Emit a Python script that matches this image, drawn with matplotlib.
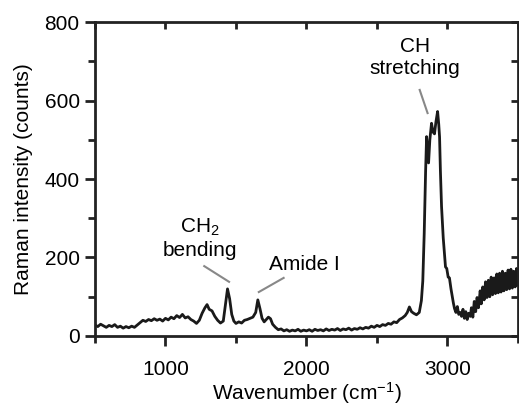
import matplotlib
matplotlib.use("Agg")
import matplotlib.pyplot as plt
from matplotlib.ticker import MultipleLocator

plt.rcParams['font.family'] = ['Liberation Sans', 'DejaVu Sans']
plt.rcParams['mathtext.fontset'] = 'custom'
plt.rcParams['mathtext.rm'] = 'Liberation Sans'
plt.rcParams['mathtext.it'] = 'Liberation Sans:italic'
plt.rcParams['mathtext.bf'] = 'Liberation Sans:bold'

wavenumber = [500, 520, 540, 560, 580, 600, 620, 640, 660, 680, 700, 720, 740, 760, 780, 800,
              820, 840, 860, 880, 900, 920, 940, 960, 980, 1000, 1020, 1040, 1060, 1080, 1100,
              1120, 1140, 1160, 1180, 1200, 1220, 1240, 1260, 1280, 1295, 1310, 1330, 1350, 1370,
              1390, 1410, 1425, 1440, 1455, 1470, 1485, 1500, 1520, 1540, 1560, 1580, 1600, 1620,
              1640, 1655, 1670, 1685, 1700, 1715, 1730, 1745, 1760, 1780, 1800, 1820, 1840, 1860,
              1880, 1900, 1920, 1940, 1960, 1980, 2000, 2020, 2040, 2060, 2080, 2100, 2120, 2140,
              2160, 2180, 2200, 2220, 2240, 2260, 2280, 2300, 2320, 2340, 2360, 2380, 2400, 2420,
              2440, 2460, 2480, 2500, 2520, 2540, 2560, 2580, 2600, 2620, 2640, 2660, 2680, 2700,
              2715, 2730, 2745, 2760, 2780, 2800, 2815, 2825, 2835, 2845, 2852, 2860, 2866, 2875,
              2887, 2897, 2908, 2918, 2930, 2938, 2944, 2950, 2958, 2970, 2986, 2995, 3005, 3014,
              3025, 3042, 3050, 3060, 3070, 3080, 3092, 3100, 3110, 3120, 3130, 3140, 3150, 3162,
              3170, 3180, 3190, 3200, 3210, 3220, 3232, 3240, 3250, 3260, 3270, 3280, 3290, 3300,
              3310, 3320, 3331, 3340, 3350, 3360, 3370, 3380, 3390, 3400, 3410, 3420, 3430, 3440,
              3450, 3460, 3470, 3480, 3490, 3500]
intensity = [28, 24, 30, 26, 22, 27, 24, 29, 22, 25, 20, 24, 21, 25, 22, 28,
             34, 40, 37, 42, 39, 44, 40, 43, 38, 45, 41, 48, 44, 52, 47,
             55, 46, 49, 42, 38, 32, 40, 58, 72, 80, 68, 64, 50, 40,
             33, 38, 80, 120, 95, 55, 38, 32, 36, 33, 40, 42, 45, 48,
             60, 92, 70, 45, 36, 42, 48, 44, 30, 22, 16, 18, 13, 16,
             12, 15, 13, 17, 12, 15, 13, 16, 12, 17, 14, 16, 13, 18,
             14, 17, 15, 19, 14, 18, 16, 20, 15, 19, 17, 21, 18, 22,
             20, 25, 22, 27, 24, 29, 27, 32, 30, 36, 34, 42, 46, 52,
             60, 74, 62, 58, 54, 60, 90, 140, 260, 420, 508, 470, 441, 500,
             542, 520, 515, 545, 572, 540, 507, 420, 330, 250, 176, 172, 150, 148,
             120, 84, 70, 60, 75, 55, 60, 50, 68, 45, 62, 42, 58, 50,
             72, 48, 88, 62, 98, 72, 115, 82, 125, 92, 138, 98, 142, 100,
             150, 105, 148, 108, 158, 110, 160, 112, 165, 115, 160, 118, 168, 120,
             170, 122, 165, 125, 172, 130]

fig = plt.figure(figsize=(5.19, 4.08), dpi=100)
ax = fig.add_axes([0.183, 0.1765, 0.815, 0.7695])
ax.plot(wavenumber, intensity, color='#1a1a1a', lw=2.0)
ax.set_xlim(500, 3500)
ax.set_ylim(0, 800)

for s in ax.spines.values():
    s.set_linewidth(2.0)
    s.set_color('#222222')

ax.xaxis.set_major_locator(MultipleLocator(1000))
ax.xaxis.set_minor_locator(MultipleLocator(500))
ax.yaxis.set_major_locator(MultipleLocator(200))
ax.yaxis.set_minor_locator(MultipleLocator(100))
ax.tick_params(axis='both', which='major', direction='out', length=7, width=2,
               labelsize=15, color='#222222', pad=4)
ax.tick_params(axis='x', which='major', pad=10)
ax.tick_params(axis='both', which='minor', direction='out', length=5, width=2, color='#222222')

top = ax.secondary_xaxis('top')
top.xaxis.set_major_locator(MultipleLocator(500))
top.tick_params(direction='in', length=5, width=2, labeltop=False, color='#222222')
top.spines['top'].set_visible(False)
right = ax.secondary_yaxis('right')
right.yaxis.set_major_locator(MultipleLocator(100))
right.tick_params(direction='in', length=5, width=2, labelright=False, color='#222222')
right.spines['right'].set_visible(False)

ax.set_xlabel('Wavenumber (cm$^{\u2212 1}$)', fontsize=15, labelpad=1)
ax.set_ylabel('Raman intensity (counts)', fontsize=15, labelpad=8)

ann_color = '#888888'
ax.text(1246, 248, 'CH$_2$\nbending', ha='center', va='center', fontsize=15)
ax.plot([1275, 1451], [178, 138], color=ann_color, lw=1.5)
ax.text(1985, 181, 'Amide I', ha='center', va='center', fontsize=15)
ax.plot([1838, 1662], [148, 112], color=ann_color, lw=1.5)
ax.text(2770, 710, 'CH\nstretching', ha='center', va='center', fontsize=15)
ax.plot([2803, 2859], [627, 568], color=ann_color, lw=1.5)

fig.savefig('out.png', dpi=100)
